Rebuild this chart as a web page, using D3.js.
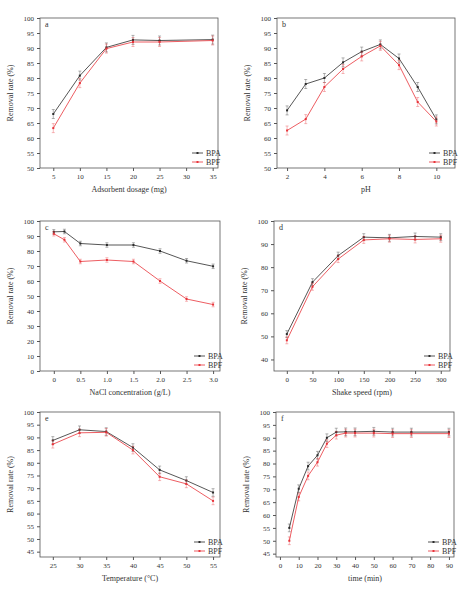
<!DOCTYPE html>
<html><head><meta charset="utf-8">
<script src="https://cdn.jsdelivr.net/npm/d3@7"></script>
<style>body{margin:0;background:#fff}text{font-family:"Liberation Serif",serif;fill:#333}</style>
</head><body>
<svg id="fig" width="474" height="594"></svg>
<script>
// panel a
const dosageX = [5, 10, 15, 20, 25, 35];
const dosageBPA = [68, 80.8, 90.2, 92.7, 92.5, 92.8];
const dosageBPF = [63.3, 78.3, 89.8, 92, 92, 92.5];
// panel b
const phX = [2, 3, 4, 5, 6, 7, 8, 9, 10];
const phBPA = [69.2, 78, 80, 85.2, 88.8, 91.2, 86.5, 77, 66.2];
const phBPF = [62.5, 66.3, 77, 83, 87.2, 90.7, 84.3, 72, 65.5];
// panel c
const naclX = [0, 0.2, 0.5, 1, 1.5, 2, 2.5, 3];
const naclBPA = [92.8, 93, 85, 84, 84, 80, 73.5, 69.8];
const naclBPF = [91.5, 87.5, 73, 74, 73, 60, 48, 44.3];
// panel d
const shakeX = [0, 50, 100, 150, 200, 250, 300];
const shakeBPA = [51, 73.5, 85, 93, 92.7, 93.3, 93];
const shakeBPF = [48.3, 71.5, 83.5, 91.8, 92.3, 92, 92.3];
// panel e
const tempX = [25, 30, 35, 40, 45, 50, 55];
const tempBPA = [88.8, 93, 92.3, 86, 77.2, 73, 68.3];
const tempBPF = [87.3, 91.8, 92, 85, 74.5, 71.7, 65];
// panel f
const timeX = [5, 10, 15, 20, 25, 30, 35, 40, 50, 60, 70, 90];
const timeBPA = [55, 70.2, 79, 83.2, 90, 92.2, 92.3, 92.3, 92.5, 92.2, 92.2, 92.2];
const timeBPF = [50, 67, 75.2, 80.5, 87.7, 91, 91.8, 91.8, 91.8, 91.6, 91.6, 91.6];
const errBar = 1.5;

const panels = [
  {id:"a", x:dosageX, a:dosageBPA, f:dosageBPF, box:[40,18,218,168], xd:[2.5,36], yd:[50,100],
   xt:[5,10,15,20,25,30,35], yt:d3.range(50,101,5), fmt:d=>d, xl:"Adsorbent dosage (mg)"},
  {id:"b", x:phX, a:phBPA, f:phBPF, box:[277,18,455,168], xd:[1.46,11], yd:[50,100],
   xt:[2,4,6,8,10], yt:d3.range(50,101,5), fmt:d=>d, xl:"pH"},
  {id:"c", x:naclX, a:naclBPA, f:naclBPF, box:[40,221,220,371], xd:[-0.26,3.13], yd:[0,100],
   xt:[0,0.5,1,1.5,2,2.5,3], yt:d3.range(0,101,10), fmt:d=>d===0?"0":d3.format(".1f")(d), xl:"NaCl concentration (g/L)"},
  {id:"d", x:shakeX, a:shakeBPA, f:shakeBPF, box:[274,221,450,371], xd:[-25,318], yd:[35,100],
   xt:d3.range(0,301,50), yt:d3.range(40,101,10), fmt:d=>d, xl:"Shake speed (rpm)"},
  {id:"e", x:tempX, a:tempBPA, f:tempBPF, box:[40,412,220,557], xd:[22.6,56.3], yd:[42.9,100],
   xt:tempX, yt:d3.range(45,101,5), fmt:d=>d, xl:"Temperature (\u00B0C)"},
  {id:"f", x:timeX, a:timeBPA, f:timeBPF, box:[276,412,454,557], xd:[-2.1,92.7], yd:[43.7,100],
   xt:d3.range(0,91,10), yt:d3.range(45,101,5), fmt:d=>d, xl:"time (min)"}
];

const svg = d3.select("#fig");
const cA = "#2b2b2b", cF = "#e8343a";

panels.forEach(p => {
  const [x0,y0,x1,y1] = p.box;
  const x = d3.scaleLinear().domain(p.xd).range([x0,x1]);
  const y = d3.scaleLinear().domain(p.yd).range([y1,y0]);
  const g = svg.append("g");

  g.append("g").attr("transform",`translate(0,${y1})`)
    .call(d3.axisBottom(x).tickValues(p.xt).tickSize(3).tickFormat(p.fmt));
  g.append("g").attr("transform",`translate(${x0},0)`)
    .call(d3.axisLeft(y).tickValues(p.yt).tickSize(3));
  g.selectAll(".domain").remove();
  g.selectAll(".tick line").attr("stroke","#555");
  g.selectAll(".tick text").style("font-size","7px").attr("fill","#333");
  g.append("rect").attr("x",x0).attr("y",y0).attr("width",x1-x0).attr("height",y1-y0)
    .attr("fill","none").attr("stroke","#555").attr("stroke-width",0.8);

  g.append("text").attr("x",x0+5).attr("y",y0+9).style("font-size","8px").text(p.id);
  g.append("text").attr("x",(x0+x1)/2).attr("y",y1+24).attr("text-anchor","middle")
    .style("font-size","8px").text(p.xl);
  g.append("text").attr("transform",`translate(${x0-27},${(y0+y1)/2}) rotate(-90)`)
    .attr("text-anchor","middle").style("font-size","8px").text("Removal rate (%)");

  [[p.a,cA],[p.f,cF]].forEach(([vals,col]) => {
    const pts = p.x.map((v,i)=>[v,vals[i]]);
    g.append("path").attr("d",d3.line().x(d=>x(d[0])).y(d=>y(d[1]))(pts))
      .attr("fill","none").attr("stroke",col).attr("stroke-width",0.8);
    const e = g.selectAll(null).data(pts).join("g");
    e.append("path").attr("d",d=>`M${x(d[0])},${y(d[1]-errBar)}V${y(d[1]+errBar)}M${x(d[0])-1.5},${y(d[1]-errBar)}h3M${x(d[0])-1.5},${y(d[1]+errBar)}h3`)
      .attr("stroke",col).attr("stroke-width",0.5).attr("opacity",0.7);
    e.append("rect").attr("x",d=>x(d[0])-1).attr("y",d=>y(d[1])-1)
      .attr("width",2).attr("height",2).attr("fill",col);
  });

  [["BPA",cA,15],["BPF",cF,6]].forEach(([n,col,dy]) => {
    const ly = y1-dy;
    g.append("line").attr("x1",x1-26).attr("x2",x1-15).attr("y1",ly).attr("y2",ly)
      .attr("stroke",col).attr("stroke-width",0.8);
    g.append("rect").attr("x",x1-21.5).attr("y",ly-1).attr("width",2).attr("height",2).attr("fill",col);
    g.append("text").attr("x",x1-12).attr("y",ly+2.8).style("font-size","8px").text(n);
  });
});
</script>
</body></html>
